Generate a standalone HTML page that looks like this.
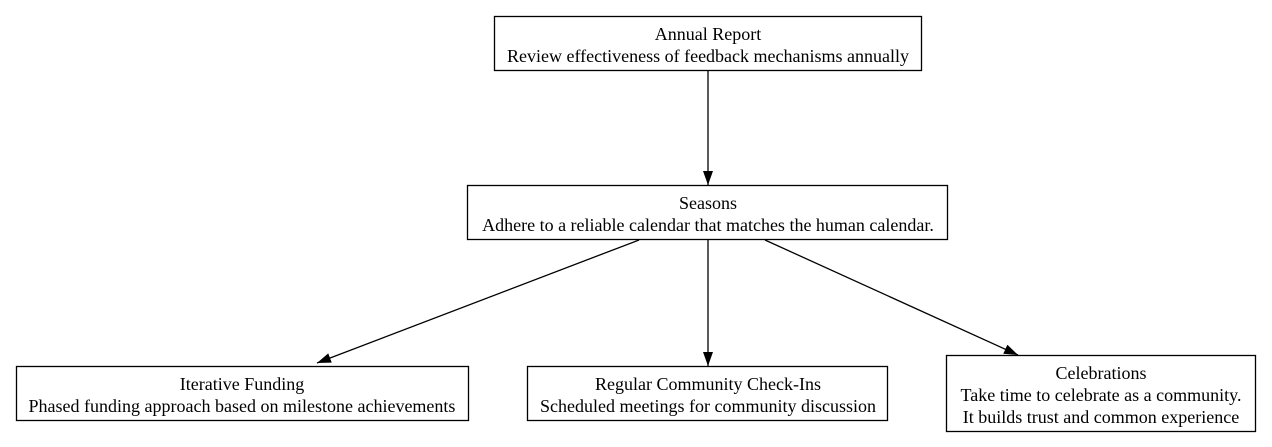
<!DOCTYPE html>
<html><head><meta charset="utf-8"><style>
html,body{margin:0;padding:0;background:#fff;}
svg{display:block;}
text{font-family:"Liberation Serif","Times New Roman",serif;font-size:18px;fill:#000;}
</style></head><body>
<svg width="1272" height="447" viewBox="0 0 1272 447" xmlns="http://www.w3.org/2000/svg">
<defs><marker id="a" markerWidth="14" markerHeight="10" refX="14" refY="5" orient="auto" markerUnits="userSpaceOnUse"><path d="M0,0 L14,5 L0,10 z" fill="#000"/></marker></defs>
<g fill="none" stroke="#000" stroke-width="1.3">
<rect x="494.5" y="16.5" width="427" height="54"/>
<rect x="467.5" y="185.5" width="480" height="54"/>
<rect x="16.5" y="366.5" width="452" height="54"/>
<rect x="527.5" y="366.5" width="360" height="54"/>
<rect x="946.5" y="355.5" width="309" height="76"/>
<line x1="708" y1="71" x2="708" y2="185" marker-end="url(#a)"/>
<line x1="639" y1="240" x2="317" y2="363" marker-end="url(#a)"/>
<line x1="708" y1="240" x2="708" y2="366" marker-end="url(#a)"/>
<line x1="765" y1="240" x2="1018" y2="355" marker-end="url(#a)"/>
</g>
<g text-anchor="middle">
<text x="708" y="40">Annual Report</text>
<text x="708" y="62">Review effectiveness of feedback mechanisms annually</text>
<text x="708" y="209">Seasons</text>
<text x="708" y="231">Adhere to a reliable calendar that matches the human calendar.</text>
<text x="242" y="390">Iterative Funding</text>
<text x="242" y="412">Phased funding approach based on milestone achievements</text>
<text x="708" y="390">Regular Community Check-Ins</text>
<text x="708" y="412">Scheduled meetings for community discussion</text>
<text x="1101" y="379">Celebrations</text>
<text x="1101" y="401">Take time to celebrate as a community.</text>
<text x="1101" y="423"> It builds trust and common experience</text>
</g>
</svg>
</body></html>
